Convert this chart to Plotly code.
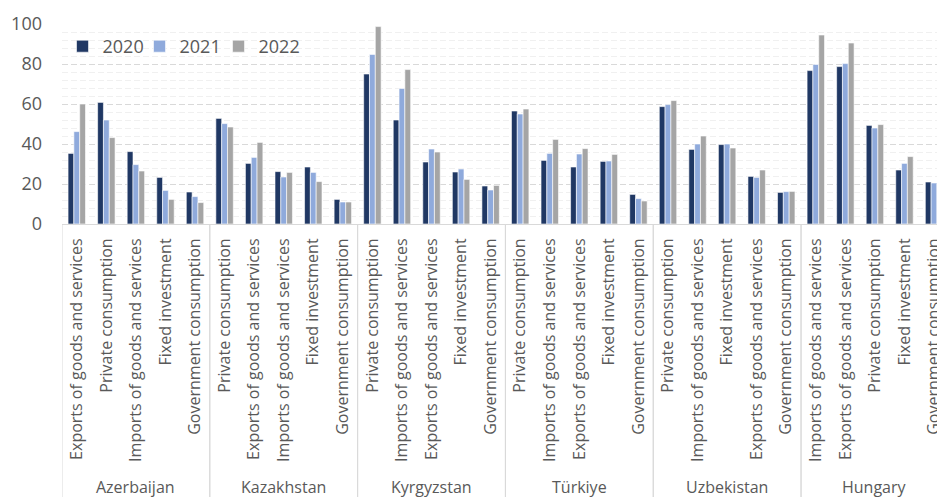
import plotly.graph_objects as go

# Countries and the order of demand components shown under each country
countries = ["Azerbaijan", "Kazakhstan", "Kyrgyzstan", "Türkiye", "Uzbekistan", "Hungary"]
components = [
    ["Exports of goods and services", "Private consumption", "Imports of goods and services",
     "Fixed investment", "Government consumption"],
    ["Private consumption", "Exports of goods and services", "Imports of goods and services",
     "Fixed investment", "Government consumption"],
    ["Private consumption", "Imports of goods and services", "Exports of goods and services",
     "Fixed investment", "Government consumption"],
    ["Private consumption", "Imports of goods and services", "Exports of goods and services",
     "Fixed investment", "Government consumption"],
    ["Private consumption", "Imports of goods and services", "Fixed investment",
     "Exports of goods and services", "Government consumption"],
    ["Imports of goods and services", "Exports of goods and services", "Private consumption",
     "Fixed investment", "Government consumption"],
]

years = ["2020", "2021", "2022"]
values_2020 = [35.3, 60.8, 36.2, 23.3, 16.0,
               52.8, 30.3, 26.2, 28.5, 12.3,
               75.0, 52.0, 31.0, 26.0, 19.0,
               56.5, 31.8, 28.5, 31.3, 14.8,
               58.7, 37.3, 39.7, 23.8, 15.8,
               76.7, 78.7, 49.3, 27.0, 21.0]
values_2021 = [46.2, 52.0, 29.7, 16.8, 13.7,
               50.2, 33.3, 23.5, 25.8, 11.0,
               84.8, 67.8, 37.5, 27.5, 17.0,
               55.0, 35.3, 35.0, 31.5, 12.7,
               59.7, 40.0, 40.0, 23.3, 16.2,
               79.8, 80.2, 48.0, 30.3, 20.5]
values_2022 = [60.0, 43.2, 26.5, 12.3, 10.7,
               48.5, 40.8, 25.8, 21.2, 11.0,
               98.7, 77.2, 36.0, 22.3, 19.3,
               57.5, 42.3, 37.7, 34.8, 11.5,
               61.7, 44.0, 38.0, 27.0, 16.3,
               94.5, 90.5, 49.7, 33.7, 20.0]
colors = ["#203864", "#8FAADC", "#A5A5A5"]

# Flatten the country/component pairs onto one numeric position axis
labels = [c for group in components for c in group]
positions = list(range(len(labels)))

FONT = "Open Sans"
TEXT = "#595959"
LINE = "#D9D9D9"

# One single-entry legend per year, laid out side by side in the top-left corner
legend_ids = ["legend", "legend2", "legend3"]
legend_x = [0.0006, 0.0886, 0.1789]

fig = go.Figure()
for year, vals, col, lid in zip(years, [values_2020, values_2021, values_2022], colors, legend_ids):
    fig.add_trace(go.Bar(
        x=positions, y=vals, name=year, legend=lid,
        marker=dict(color=col, line=dict(color="white", width=0.6)),
    ))

# Country names centred under each group, with dividers between groups
shapes = []
annotations = []
start = 0
for name, group in zip(countries, components):
    n = len(group)
    annotations.append(dict(
        x=start + (n - 1) / 2, y=-1.315, xref="x", yref="paper",
        text=name, showarrow=False, xanchor="center", yanchor="middle",
        font=dict(family=FONT, size=16, color=TEXT),
    ))
    for edge in (start - 0.5, start + n - 0.5):
        shapes.append(dict(
            type="line", xref="x", yref="paper", x0=edge, x1=edge, y0=0, y1=-1.4,
            line=dict(color=LINE, width=1),
        ))
    start += n

legend_style = dict(
    orientation="h", y=0.98, xanchor="left", yanchor="top",
    font=dict(family=FONT, size=18, color=TEXT), bgcolor="rgba(0,0,0,0)",
)
legends = {lid: dict(legend_style, x=lx) for lid, lx in zip(legend_ids, legend_x)}

fig.update_layout(
    width=937, height=497,
    margin=dict(l=62, r=0, t=24, b=273, autoexpand=False),
    paper_bgcolor="white", plot_bgcolor="white",
    barmode="group", bargap=0.41, bargroupgap=0,
    font=dict(family=FONT, color=TEXT),
    showlegend=True,
    shapes=shapes,
    annotations=annotations,
    **legends,
)

fig.update_xaxes(
    tickmode="array", tickvals=positions, ticktext=labels,
    tickangle=-90, range=[-0.5, 29.1], automargin=False,
    tickfont=dict(family=FONT, size=16, color=TEXT),
    showline=True, linecolor=LINE, linewidth=1,
    showgrid=False, zeroline=False, ticks="", ticklabelstandoff=7,
    ticklabeloverflow="allow",
)
fig.update_yaxes(
    range=[0, 100], dtick=20, tick0=0, automargin=False,
    tickfont=dict(family=FONT, size=18, color=TEXT),
    showgrid=True, gridcolor=LINE, gridwidth=1, griddash="6px,3px",
    minor=dict(dtick=4, showgrid=True, gridcolor="#F0F0F0", gridwidth=1),
    zeroline=False, showline=False, ticks="", ticklabelstandoff=19,
)

fig.write_html("out.html")
